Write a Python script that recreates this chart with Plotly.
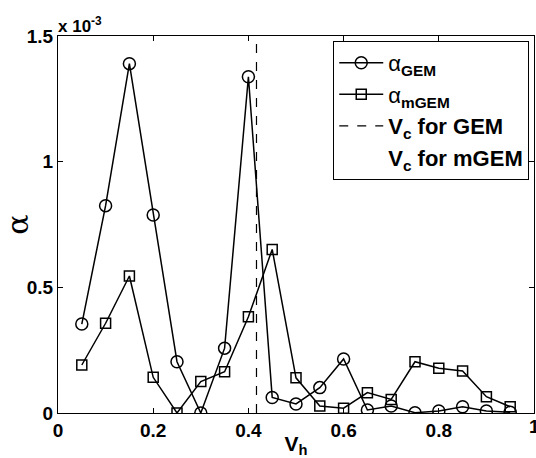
import plotly.graph_objects as go

vh = [0.05, 0.10, 0.15, 0.20, 0.25, 0.30, 0.35, 0.40, 0.45, 0.50,
      0.55, 0.60, 0.65, 0.70, 0.75, 0.80, 0.85, 0.90, 0.95]
alpha_gem = [0.354, 0.825, 1.39, 0.788, 0.204, 0.00, 0.258, 1.338, 0.062, 0.036,
             0.101, 0.215, 0.012, 0.028, 0.001, 0.008, 0.025, 0.008, 0.003]
alpha_mgem = [0.191, 0.357, 0.545, 0.142, 0.00, 0.125, 0.164, 0.383, 0.651, 0.14,
              0.028, 0.019, 0.081, 0.054, 0.204, 0.178, 0.167, 0.065, 0.025]
vc_gem = 0.417
y_range = [0, 1.5]
x_ticks = [0, 0.2, 0.4, 0.6, 0.8, 1]
x_tick_labels = ["0", "0.2", "0.4", "0.6", "0.8", "1"]
y_ticks = [0, 0.5, 1, 1.5]
y_tick_labels = ["0", "0.5", "1", "1.5"]

font_main = "Liberation Sans, Arial, sans-serif"

fig = go.Figure()
fig.add_trace(go.Scatter(
    x=vh, y=alpha_gem, mode="lines+markers", name="α<sub><b>GEM</b></sub>",
    line=dict(color="black", width=1.5),
    marker=dict(symbol="circle-open", size=12, color="black", line=dict(width=1.5)),
))
fig.add_trace(go.Scatter(
    x=vh, y=alpha_mgem, mode="lines+markers", name="α<sub><b>mGEM</b></sub>",
    line=dict(color="black", width=1.5),
    marker=dict(symbol="square-open", size=10, color="black", line=dict(width=1.5)),
))
fig.add_trace(go.Scatter(
    x=[vc_gem, vc_gem], y=y_range, mode="lines", name="<b>V<sub>c</sub> for GEM</b>",
    line=dict(color="black", width=1.2, dash="dash"),
))
fig.add_trace(go.Scatter(
    x=[None], y=[None], mode="lines", name="<b>V<sub>c</sub> for mGEM</b>",
    line=dict(color="rgba(0,0,0,0)", width=1),
))

# the last x tick label sits on the page edge; draw it as text so it is kept
edge_labels = [dict(
    text="<b>%s</b>" % x_tick_labels[-1], x=x_ticks[-1], y=0, xref="x", yref="paper",
    xanchor="center", yanchor="top", showarrow=False, font=dict(size=19), yshift=-1,
)]

fig.update_layout(
    width=536, height=458,
    margin=dict(l=58, r=2, t=36, b=45),
    paper_bgcolor="white", plot_bgcolor="white",
    font=dict(family=font_main, color="black", size=18),
    showlegend=True,
    legend=dict(
        x=0.99, y=0.987, xanchor="right", yanchor="top",
        bgcolor="white", bordercolor="black", borderwidth=1,
        font=dict(size=22, family=font_main), tracegroupgap=0,
        itemwidth=44,
    ),
    xaxis=dict(
        range=[0, 1], tickvals=x_ticks[:-1], ticktext=["<b>%s</b>" % t for t in x_tick_labels[:-1]],
        ticks="inside", ticklen=5, tickcolor="black", showline=True, linecolor="black",
        linewidth=1, mirror="ticks", showgrid=False, zeroline=False, automargin=False,
        tickfont=dict(size=19),
        title=dict(text="<b>V<sub>h</sub></b>", font=dict(size=21), standoff=4),
    ),
    yaxis=dict(
        range=y_range, tickvals=y_ticks, ticktext=["<b>%s</b>" % t for t in y_tick_labels],
        ticks="inside", ticklen=5, tickcolor="black", showline=True, linecolor="black",
        linewidth=1, mirror="ticks", showgrid=False, zeroline=False, automargin=False,
        tickfont=dict(size=19),
        title=dict(text="α", font=dict(size=30, family="DejaVu Serif, Liberation Serif, serif"), standoff=6),
    ),
    annotations=[dict(
        text="<b>x 10<sup>-3</sup></b>", x=0, y=1, xref="paper", yref="paper",
        xanchor="left", yanchor="bottom", showarrow=False, font=dict(size=17), xshift=-2, yshift=-2,
    )] + edge_labels,
)

fig.write_html("out.html", config={"displayModeBar": False},
               post_script="document.body.style.margin='0px';document.body.style.overflow='hidden';")
